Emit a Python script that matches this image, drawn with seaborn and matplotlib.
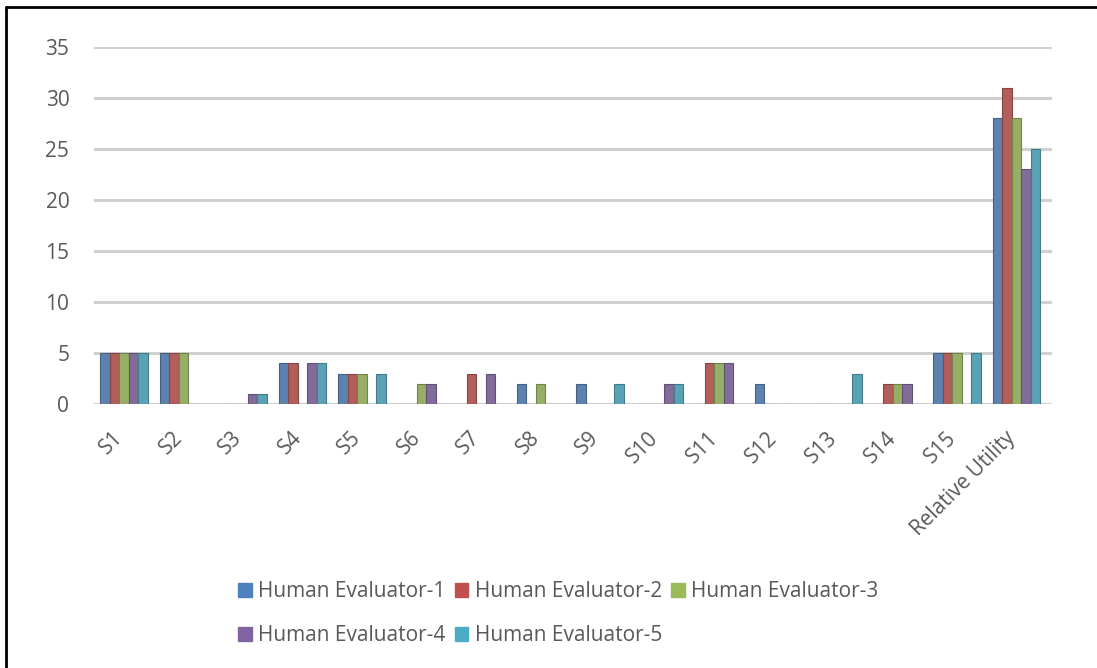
import matplotlib
matplotlib.use("Agg")
import matplotlib.pyplot as plt
import matplotlib.transforms as mtransforms
from matplotlib.lines import Line2D
from matplotlib.patches import Patch
import seaborn as sns
import pandas as pd

categories = ["S1", "S2", "S3", "S4", "S5", "S6", "S7", "S8", "S9", "S10",
              "S11", "S12", "S13", "S14", "S15", "Relative Utility"]
series_names = ["Human Evaluator-1", "Human Evaluator-2", "Human Evaluator-3",
                "Human Evaluator-4", "Human Evaluator-5"]
evaluator_1 = [5, 5, 0, 4, 3, 0, 0, 2, 2, 0, 0, 2, 0, 0, 5, 28]
evaluator_2 = [5, 5, 0, 4, 3, 0, 3, 0, 0, 0, 4, 0, 0, 2, 5, 31]
evaluator_3 = [5, 5, 0, 0, 3, 2, 0, 2, 0, 0, 4, 0, 0, 2, 5, 28]
evaluator_4 = [5, 0, 1, 4, 0, 2, 3, 0, 0, 2, 4, 0, 0, 2, 0, 23]
evaluator_5 = [5, 0, 1, 4, 3, 0, 0, 0, 2, 2, 0, 0, 3, 0, 5, 25]
y_ticks = [0, 5, 10, 15, 20, 25, 30, 35]

colors = ["#4F81BD", "#C0504D", "#9BBB59", "#8064A2", "#4BACC6"]
text_color = "#595959"

all_values = [evaluator_1, evaluator_2, evaluator_3, evaluator_4, evaluator_5]
rows = []
for name, vals in zip(series_names, all_values):
    for cat, v in zip(categories, vals):
        rows.append({"category": cat, "evaluator": name, "score": v})
df = pd.DataFrame(rows)

sns.set_style("white")
plt.rcParams["font.family"] = ["Open Sans", "DejaVu Sans"]

fig = plt.figure(figsize=(10.97, 6.68), dpi=100)
ax = fig.add_axes([0.086, 0.395, 0.873, 0.535])

sns.barplot(data=df, x="category", y="score", hue="evaluator",
            order=categories, hue_order=series_names, palette=colors,
            width=0.8, ax=ax, legend=False, zorder=3)

# darker outline on each bar for a slight depth effect
for bar in ax.patches:
    fc = bar.get_facecolor()
    bar.set_edgecolor(tuple(c * 0.75 for c in fc[:3]) + (1,))
    bar.set_linewidth(0.8)

ax.set_xlim(-0.5, 15.6)
ax.set_ylim(0, 35)
ax.set_yticks(y_ticks)
ax.yaxis.grid(True, color="#D0D0D0", linewidth=2.2, zorder=0)
ax.set_axisbelow(True)
for s in ax.spines.values():
    s.set_visible(False)
ax.set_xlabel("")
ax.set_ylabel("")
ax.tick_params(axis="y", length=0, pad=18, labelsize=15, labelcolor=text_color)
ax.tick_params(axis="x", length=0, pad=22, labelsize=15, labelcolor=text_color)
ax.set_xticks(range(len(categories)))
ax.set_xticklabels(categories, rotation=45, ha="right", va="center",
                   rotation_mode="anchor")
shift = mtransforms.ScaledTranslation(-4 / 100, 0, fig.dpi_scale_trans)
for lbl in ax.get_xticklabels():
    lbl.set_transform(lbl.get_transform() + shift)

# legend laid out as rows: 1,2,3 / 4,5
handles = [Patch(facecolor=c, edgecolor=c) for c in colors]
order = [0, 3, 1, 4, 2]
fig.legend([handles[i] for i in order], [series_names[i] for i in order],
           ncol=3, loc="center", bbox_to_anchor=(0.509, 0.081), frameon=False,
           fontsize=15, handlelength=0.65, handleheight=0.65, handletextpad=0.3,
           columnspacing=0.45, labelspacing=1.1, labelcolor=text_color)

# frame lines along the top and left edges
fig.add_artist(Line2D([6 / 1097, 1.0], [1 - 7 / 668, 1 - 7 / 668],
                      transform=fig.transFigure, color="black", linewidth=2))
fig.add_artist(Line2D([6 / 1097, 6 / 1097], [1 - 7 / 668, 0.0],
                      transform=fig.transFigure, color="black", linewidth=2))

fig.savefig("out.png", dpi=100)
